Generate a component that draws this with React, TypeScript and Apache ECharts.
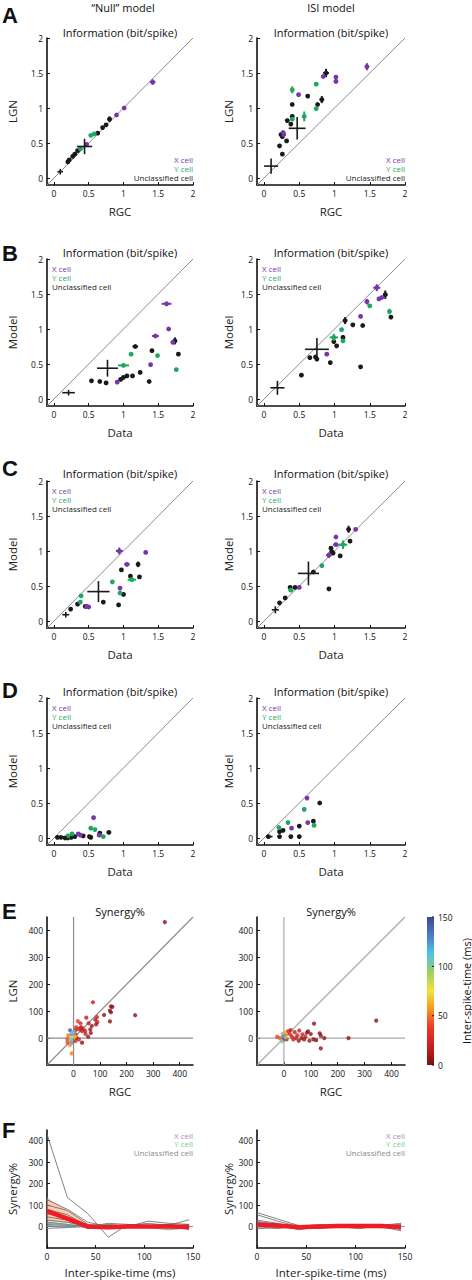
import React, { useEffect, useRef } from "react";
import * as echarts from "echarts";

const FONT = "'Open Sans', 'Noto Sans', sans-serif";
const PURPLE = "#7638a8";
const GREEN = "#1fa862";
const BLACK = "#1a1a1a";

// ---------- Information panels: [x, y, xErr, yErr] ----------
const A_NULL_X = [[1.42, 1.37, 0.04, 0.04], [1.01, 1.0, 0, 0], [0.9, 0.9, 0, 0], [0.47, 0.48, 0, 0]];
const A_NULL_Y = [[0.58, 0.63, 0, 0], [0.53, 0.61, 0, 0], [0.38, 0.42, 0, 0]];
const A_NULL_U = [[0.8, 0.84, 0.03, 0.04], [0.75, 0.76, 0.02, 0], [0.7, 0.72, 0, 0], [0.63, 0.64, 0, 0], [0.34, 0.39, 0, 0], [0.3, 0.34, 0, 0], [0.27, 0.31, 0, 0], [0.22, 0.26, 0, 0], [0.2, 0.23, 0, 0]];
const A_NULL_M = [[0.44, 0.45, 0.11, 0.11], [0.09, 0.09, 0.04, 0.04]];

const A_ISI_X = [[1.46, 1.59, 0.03, 0.05], [0.84, 1.45, 0, 0], [1.02, 1.44, 0, 0.02], [1.02, 1.38, 0, 0.03], [0.49, 1.19, 0, 0], [0.27, 0.65, 0, 0], [0.28, 0.62, 0, 0]];
const A_ISI_Y = [[0.4, 1.26, 0, 0.05], [0.74, 1.34, 0, 0], [0.74, 0.99, 0, 0], [0.57, 0.88, 0.02, 0.07], [0.4, 0.84, 0, 0]];
const A_ISI_U = [[0.88, 1.5, 0.04, 0.06], [0.62, 1.17, 0, 0], [0.82, 1.12, 0.03, 0.05], [0.76, 1.05, 0, 0], [0.4, 1.05, 0, 0], [0.4, 0.88, 0, 0], [0.33, 0.82, 0, 0], [0.38, 0.77, 0, 0], [0.24, 0.62, 0, 0], [0.26, 0.59, 0, 0], [0.32, 0.53, 0, 0], [0.22, 0.46, 0, 0], [0.26, 0.34, 0, 0]];
const A_ISI_M = [[0.47, 0.71, 0.12, 0.16], [0.1, 0.17, 0.1, 0.11]];

const B_NULL_X = [[1.62, 1.36, 0.07, 0.03], [1.65, 1.0, 0, 0], [1.46, 0.9, 0.05, 0], [1.71, 0.81, 0, 0], [1.39, 0.49, 0, 0], [0.91, 0.24, 0, 0]];
const B_NULL_Y = [[1.11, 0.64, 0, 0], [1.49, 0.62, 0, 0], [1.0, 0.48, 0.08, 0], [1.76, 0.42, 0, 0]];
const B_NULL_U = [[1.74, 0.83, 0.03, 0.05], [1.17, 0.75, 0.04, 0], [1.41, 0.69, 0, 0], [1.79, 0.64, 0, 0], [1.24, 0.38, 0, 0], [1.13, 0.33, 0.02, 0], [1.05, 0.33, 0, 0], [1.0, 0.31, 0, 0], [0.96, 0.28, 0, 0], [1.37, 0.25, 0, 0], [0.54, 0.26, 0, 0], [0.66, 0.25, 0, 0], [0.75, 0.23, 0, 0]];
const B_NULL_M = [[0.77, 0.44, 0.15, 0.12], [0.21, 0.09, 0.09, 0.04]];

const B_ISI_X = [[1.6, 1.59, 0.05, 0.05], [1.63, 1.43, 0, 0], [1.67, 1.45, 0, 0], [1.46, 1.39, 0.03, 0.04], [1.37, 1.18, 0, 0], [0.89, 0.64, 0, 0]];
const B_ISI_Y = [[1.5, 1.33, 0.02, 0.02], [1.78, 1.25, 0, 0.04], [1.1, 0.99, 0, 0], [0.99, 0.88, 0.06, 0.05], [1.12, 0.83, 0, 0]];
const B_ISI_U = [[1.72, 1.49, 0.03, 0.06], [1.8, 1.17, 0.02, 0], [1.15, 1.12, 0.03, 0.05], [1.26, 1.06, 0.02, 0], [1.4, 1.05, 0, 0], [1.12, 0.88, 0.02, 0.03], [0.99, 0.82, 0, 0], [1.03, 0.76, 0, 0], [0.73, 0.6, 0, 0], [0.65, 0.59, 0, 0], [0.75, 0.57, 0, 0], [0.94, 0.52, 0, 0], [1.37, 0.46, 0.02, 0], [0.53, 0.34, 0, 0]];
const B_ISI_M = [[0.75, 0.71, 0.17, 0.16], [0.19, 0.16, 0.1, 0.1]];

const C_NULL_X = [[0.94, 1.0, 0.05, 0.05], [1.32, 0.98, 0, 0], [1.05, 0.81, 0.04, 0.03], [0.95, 0.47, 0, 0], [0.5, 0.2, 0, 0], [0.47, 0.21, 0, 0]];
const C_NULL_Y = [[1.12, 0.59, 0.06, 0.02], [0.84, 0.56, 0, 0], [0.95, 0.4, 0, 0], [0.39, 0.36, 0.03, 0], [0.38, 0.27, 0, 0]];
const C_NULL_U = [[1.21, 0.81, 0, 0.04], [0.97, 0.73, 0, 0], [1.1, 0.64, 0, 0], [1.23, 0.63, 0, 0], [1.0, 0.38, 0.02, 0], [0.34, 0.24, 0, 0], [0.45, 0.21, 0, 0], [0.71, 0.27, 0, 0], [0.93, 0.23, 0, 0], [0.24, 0.17, 0, 0]];
const C_NULL_M = [[0.64, 0.42, 0.16, 0.15], [0.17, 0.09, 0.05, 0.04]];

const C_ISI_X = [[1.3, 1.31, 0, 0], [1.02, 1.2, 0, 0], [1.02, 1.09, 0.04, 0.03], [0.92, 0.94, 0.04, 0.04], [0.5, 0.48, 0.02, 0]];
const C_ISI_Y = [[1.12, 1.09, 0.06, 0.06], [0.82, 0.79, 0, 0], [0.38, 0.44, 0.03, 0.02]];
const C_ISI_U = [[1.2, 1.31, 0.02, 0.05], [1.22, 1.14, 0, 0], [0.95, 1.04, 0, 0], [0.96, 0.99, 0.02, 0], [0.98, 0.97, 0, 0], [1.08, 0.93, 0, 0], [0.7, 0.7, 0, 0], [0.44, 0.48, 0.03, 0], [0.37, 0.48, 0, 0], [0.92, 0.46, 0, 0], [0.3, 0.33, 0, 0], [0.22, 0.26, 0, 0]];
const C_ISI_M = [[0.63, 0.68, 0.15, 0.17], [0.16, 0.16, 0.05, 0.05]];

const D_NULL_X = [[0.57, 0.29, 0, 0], [0.35, 0.06, 0, 0], [0.65, 0.04, 0, 0], [0.38, 0.04, 0, 0]];
const D_NULL_Y = [[0.26, 0.06, 0, 0], [0.59, 0.12, 0, 0], [0.53, 0.14, 0, 0], [0.71, 0.02, 0, 0], [0.2, 0.03, 0, 0]];
const D_NULL_U = [[0.05, 0.01, 0.02, 0], [0.1, 0.01, 0, 0], [0.2, 0.0, 0, 0], [0.25, 0.01, 0, 0], [0.3, 0.02, 0, 0], [0.51, 0.02, 0, 0], [0.53, 0.01, 0, 0], [0.66, 0.07, 0, 0], [0.79, 0.08, 0.03, 0.01], [0.42, 0.03, 0, 0], [0.16, 0.0, 0, 0]];
const D_NULL_M = [[0.14, 0.01, 0.05, 0.01]];

const D_ISI_X = [[0.61, 0.57, 0, 0], [0.62, 0.22, 0, 0], [0.39, 0.14, 0, 0]];
const D_ISI_Y = [[0.57, 0.41, 0.02, 0.03], [0.34, 0.22, 0.02, 0.03], [0.71, 0.18, 0, 0], [0.21, 0.15, 0, 0]];
const D_ISI_U = [[0.79, 0.5, 0, 0], [0.5, 0.17, 0, 0], [0.7, 0.24, 0, 0], [0.22, 0.09, 0, 0], [0.27, 0.11, 0, 0], [0.38, 0.02, 0, 0], [0.5, 0.02, 0, 0], [0.22, 0.02, 0, 0], [0.06, 0.02, 0, 0]];
const D_ISI_M = [[0.08, 0.02, 0.04, 0.01]];

// ---------- Synergy panels: [RGC, LGN, inter-spike-time] ----------
const E_NULL = [
  [344, 431, 2], [232, 85, 3], [141, 118, 4], [146, 116, 3], [137, 102, 5], [141, 96, 4], [115, 86, 3], [137, 62, 4],
  [73, 133, 18], [88, 78, 16], [82, 68, 14], [90, 60, 20], [85, 51, 6], [48, 76, 18], [69, 45, 6], [57, 55, 15],
  [26, 55, 20], [16, 63, 38], [26, 38, 22], [38, 32, 20], [20, 32, 22], [7, 29, 24], [32, 26, 18], [44, 26, 20],
  [63, 32, 5], [65, 19, 4], [7, 14, 22], [-8, 14, 130], [-13, 29, 145], [-5, 19, 105], [11, 1, 5], [-23, -5, 40],
  [-14, -26, 55], [-7, -57, 52], [32, -17, 4], [-23, -17, 42], [-5, -17, 125], [7, -11, 20], [-20, 10, 50],
  [0, 22, 110], [10, 40, 22], [30, 40, 18], [45, 15, 20], [55, 5, 6], [20, -5, 22], [-10, -5, 100], [5, 5, 70]
];
const E_ISI = [
  [343, 65, 3], [240, 0, 4], [112, 54, 3], [133, 18, 4], [137, 9, 3], [137, -38, 5], [85, 20, 4], [90, 25, 3],
  [57, 28, 18], [69, 14, 20], [80, 5, 16], [50, 10, 20], [40, 22, 18], [30, 5, 22], [23, 14, 22], [15, 25, 20],
  [10, -5, 20], [55, -10, 5], [75, -5, 4], [95, -10, 5], [110, -5, 4], [65, 0, 6], [45, 0, 18], [35, -5, 20],
  [5, 10, 40], [-5, 15, 110], [-3, 5, 130], [0, -5, 145], [-15, 0, 45], [-25, 5, 38], [-8, -12, 100], [2, 20, 60],
  [25, 30, 15], [100, 15, 5], [150, 0, 4], [120, -8, 3], [7, 3, 90]
];

// ---------- Synergy vs inter-spike-time ----------
const F_T = [0, 21, 42, 63, 83, 104, 125, 146];
const F_NULL_GRAY = [
  [430, 135, 60, -50, 10, 5, 0, 0],
  [125, 80, 20, 0, 5, 15, 5, 32],
  [100, 75, 10, -5, 0, 25, 15, 10],
  [80, 55, 0, 15, 10, 0, 5, -15],
  [60, 40, -10, 10, 0, 5, 10, -10],
  [45, 30, -5, 5, 5, 0, 0, 10],
  [30, 20, 0, -10, 0, -5, 5, 0],
  [20, 10, -5, 0, 5, 0, -5, 5],
  [10, 5, 0, 5, 0, 5, 0, -5],
  [0, -5, 5, 0, -5, 0, 10, 0]
];
const F_NULL_PURPLE = [[-10, -5, 0, 5, 0, 5, 0, 0], [15, 5, -5, 0, 5, 0, -5, 0]];
const F_NULL_GREEN = [[5, 0, 5, 10, 0, -5, -15, -5], [20, 10, 0, 0, 5, 0, 0, 5]];
const F_NULL_LO = [25, 15, -8, -8, -5, -5, -5, -8];
const F_NULL_HI = [135, 75, 12, 8, 8, 10, 8, 8];
const F_NULL_MEAN = [72, 37, 0, -3, 0, 0, 0, -2];

const F_ISI_GRAY = [
  [65, 35, 5, 0, 0, 5, 0, -5],
  [55, 25, 0, -5, 5, 0, 5, 0],
  [30, 15, -10, -5, 0, 0, 10, -15],
  [20, 10, -15, 0, 5, 10, 5, 15],
  [10, 0, 5, -10, 0, 5, -5, 10],
  [-10, -5, 0, 10, -5, 0, 0, -20],
  [5, 10, -5, 5, 0, -10, 5, 5],
  [0, -10, 5, 0, 10, 5, -5, 0]
];
const F_ISI_PURPLE = [[25, 10, 0, 5, 0, 5, 5, 0], [-5, 5, -5, 0, 5, 0, 0, 15]];
const F_ISI_GREEN = [[15, 5, 5, -5, 0, 5, 0, 10]];
const F_ISI_LO = [0, -5, -8, -5, -3, -3, -3, -8];
const F_ISI_HI = [22, 12, 5, 5, 8, 8, 8, 8];
const F_ISI_MEAN = [10, 5, -3, 0, 3, 2, 3, -2];

const INFO_TICKS = [0, 0.5, 1, 1.5, 2];
const SYN_TICKS = [0, 100, 200, 300, 400];
const ISI_TICKS = [0, 50, 100, 150];
const ISI_COLORS = ["#7d1010", "#c81e1e", "#ee3524", "#f7931e", "#f3e33c", "#9fcf5c", "#4ec3ea", "#4a7ec2", "#3c4796"];
const CBAR_LABELS = [0, 50, 100, 150];

const ROW_TOPS = [38, 259, 481, 698, 917, 1130];
const ROW_H = [147, 147, 147, 147, 148, 118];
const COL_LEFT = [47, 257];
const COL_W = [146, 148];

function pointSeries(data: number[][], color: string, gi: number, dotR: number, lw: number) {
  return {
    type: "custom",
    coordinateSystem: "cartesian2d",
    xAxisIndex: gi,
    yAxisIndex: gi,
    data,
    encode: { x: 0, y: 1 },
    silent: true,
    clip: false,
    renderItem: (params: any, api: any) => {
      const x = api.value(0), y = api.value(1), ex = api.value(2), ey = api.value(3);
      const c = api.coord([x, y]);
      const ch: any[] = [];
      if (ex > 0) {
        const a = api.coord([x - ex, y]), b = api.coord([x + ex, y]);
        ch.push({ type: "line", shape: { x1: a[0], y1: a[1], x2: b[0], y2: b[1] }, style: { stroke: color, lineWidth: lw } });
      }
      if (ey > 0) {
        const a = api.coord([x, y - ey]), b = api.coord([x, y + ey]);
        ch.push({ type: "line", shape: { x1: a[0], y1: a[1], x2: b[0], y2: b[1] }, style: { stroke: color, lineWidth: lw } });
      }
      if (dotR > 0) ch.push({ type: "circle", shape: { cx: c[0], cy: c[1], r: dotR }, style: { fill: color } });
      return { type: "group", children: ch };
    },
  };
}

function refLine(gi: number, pts: number[][], color: string, w: number) {
  return {
    type: "line", xAxisIndex: gi, yAxisIndex: gi, data: pts, symbol: "none", silent: true,
    lineStyle: { color, width: w }, z: 1,
  };
}

function bandSeries(gi: number, lo: number[], hi: number[]) {
  return {
    type: "custom", coordinateSystem: "cartesian2d", xAxisIndex: gi, yAxisIndex: gi, silent: true,
    data: F_T.map((t, i) => [t, lo[i], hi[i]]),
    encode: { x: 0, y: [1, 2] },
    renderItem: (params: any, api: any) => {
      if (params.dataIndex !== 0) return { type: "group", children: [] };
      const top = F_T.map((t, i) => api.coord([t, hi[i]]));
      const bot = F_T.map((t, i) => api.coord([t, lo[i]])).reverse();
      return { type: "polygon", shape: { points: top.concat(bot) }, style: { fill: "rgba(245,160,120,0.55)" } };
    },
  };
}

function lineSeries(gi: number, vals: number[], color: string, w: number, z = 2) {
  return {
    type: "line", xAxisIndex: gi, yAxisIndex: gi, data: F_T.map((t, i) => [t, vals[i]]),
    symbol: "none", silent: true, lineStyle: { color, width: w }, z,
  };
}

function axisCommon(min: number, max: number, ticks: number[], name: string, nameGap: number) {
  return {
    type: "value", min, max, name, nameLocation: "middle", nameGap,
    nameTextStyle: { fontFamily: FONT, fontSize: 11.5, color: "#222" },
    axisLine: { show: true, onZero: false, lineStyle: { color: "#111", width: 1.6 } },
    axisTick: { show: true, inside: true, length: 3, customValues: ticks, lineStyle: { color: "#111", width: 1 } },
    axisLabel: { customValues: ticks, fontFamily: FONT, fontSize: 8.5, color: "#111", margin: 4 },
    splitLine: { show: false },
  };
}

export default function App() {
  const ref = useRef<HTMLDivElement>(null);
  useEffect(() => {
    if (!ref.current) return;
    const chart = echarts.init(ref.current, null, { renderer: "svg" });

    const grids: any[] = [];
    const xAxes: any[] = [];
    const yAxes: any[] = [];
    const series: any[] = [];
    const rowNamesY = ["LGN", "Model", "Model", "Model", "LGN", "Synergy%"];
    const rowNamesX = ["RGC", "Data", "Data", "Data", "RGC", "Inter-spike-time (ms)"];

    for (let r = 0; r < 6; r++) {
      for (let c = 0; c < 2; c++) {
        grids.push({ left: COL_LEFT[c], top: ROW_TOPS[r], width: COL_W[c], height: ROW_H[r] });
        const gi = r * 2 + c;
        const yGap = c === 0 ? 29 : 23;
        if (r < 4) {
          xAxes.push({ gridIndex: gi, ...axisCommon(-0.1, 2, INFO_TICKS, rowNamesX[r], 20) });
          yAxes.push({ gridIndex: gi, ...axisCommon(-0.1, 2, INFO_TICKS, rowNamesY[r], yGap) });
        } else if (r === 4) {
          xAxes.push({ gridIndex: gi, ...axisCommon(-100, 450, SYN_TICKS, rowNamesX[r], 20) });
          yAxes.push({ gridIndex: gi, ...axisCommon(-100, 450, SYN_TICKS, rowNamesY[r], yGap) });
        } else {
          xAxes.push({ gridIndex: gi, ...axisCommon(0, 150, ISI_TICKS, rowNamesX[r], 18) });
          yAxes.push({ gridIndex: gi, ...axisCommon(-100, 450, SYN_TICKS, rowNamesY[r], yGap) });
        }
      }
    }

    const infoPanels = [
      [A_NULL_X, A_NULL_Y, A_NULL_U, A_NULL_M], [A_ISI_X, A_ISI_Y, A_ISI_U, A_ISI_M],
      [B_NULL_X, B_NULL_Y, B_NULL_U, B_NULL_M], [B_ISI_X, B_ISI_Y, B_ISI_U, B_ISI_M],
      [C_NULL_X, C_NULL_Y, C_NULL_U, C_NULL_M], [C_ISI_X, C_ISI_Y, C_ISI_U, C_ISI_M],
      [D_NULL_X, D_NULL_Y, D_NULL_U, D_NULL_M], [D_ISI_X, D_ISI_Y, D_ISI_U, D_ISI_M],
    ];
    infoPanels.forEach((p, gi) => {
      series.push(refLine(gi, [[-0.1, -0.1], [2, 2]], "#8c8c8c", 1));
      series.push(pointSeries(p[2], BLACK, gi, 2.4, 2));
      series.push(pointSeries(p[1], GREEN, gi, 2.4, 2));
      series.push(pointSeries(p[0], PURPLE, gi, 2.4, 2));
      series.push(pointSeries(p[3], BLACK, gi, 0, 1.6));
    });

    const eIdx: number[] = [];
    [E_NULL, E_ISI].forEach((d, k) => {
      const gi = 8 + k;
      const col = k === 0 ? "#8c8c8c" : "#a8a8a8";
      series.push(refLine(gi, [[-100, -100], [450, 450]], col, 1.2));
      series.push(refLine(gi, [[0, -100], [0, 450]], col, 1.2));
      series.push(refLine(gi, [[-100, 0], [450, 0]], col, 1.2));
      eIdx.push(series.length);
      series.push({ type: "scatter", xAxisIndex: gi, yAxisIndex: gi, data: d, symbolSize: 4.2, silent: true, z: 3 });
    });

    const fSets = [
      [F_NULL_GRAY, F_NULL_PURPLE, F_NULL_GREEN, F_NULL_LO, F_NULL_HI, F_NULL_MEAN],
      [F_ISI_GRAY, F_ISI_PURPLE, F_ISI_GREEN, F_ISI_LO, F_ISI_HI, F_ISI_MEAN],
    ];
    fSets.forEach((s: any, k) => {
      const gi = 10 + k;
      series.push(refLine(gi, [[0, 0], [150, 0]], "#9a9a9a", 1));
      series.push(bandSeries(gi, s[3], s[4]));
      s[0].forEach((v: number[]) => series.push(lineSeries(gi, v, "rgba(100,100,100,0.8)", 1)));
      s[1].forEach((v: number[]) => series.push(lineSeries(gi, v, "rgba(160,120,200,0.8)", 1)));
      s[2].forEach((v: number[]) => series.push(lineSeries(gi, v, "rgba(70,175,115,0.8)", 1)));
      series.push(lineSeries(gi, s[5], "#ee1c24", 4.5, 5));
    });

    const txt = (x: number, y: number, text: string, opts: any = {}) => ({
      type: "text", x, y, silent: true,
      style: {
        text, fill: opts.fill || "#111", fontFamily: opts.fontFamily || FONT, fontSize: opts.fontSize || 10.5,
        fontWeight: opts.fontWeight || "normal", textAlign: opts.align || "center", textVerticalAlign: "middle",
      },
      rotation: opts.rotation || 0,
    });

    const graphics: any[] = [];
    graphics.push(txt(123, 7, "\u201CNull\u201D model", { fontSize: 11 }));
    graphics.push(txt(331, 7, "ISI model", { fontSize: 11 }));
    const letters = ["A", "B", "C", "D", "E", "F"];
    const letterY = [15, 253, 468, 690, 911, 1130];
    letters.forEach((l, i) => graphics.push(txt(2, letterY[i], l, { fontSize: 22, fontWeight: "bold", align: "left", fontFamily: "'Liberation Sans', Arial, sans-serif" })));

    const titleY = [32, 252, 473, 691, 911];
    for (let r = 0; r < 5; r++) {
      for (let c = 0; c < 2; c++) {
        graphics.push(txt(COL_LEFT[c] + COL_W[c] / 2, titleY[r], r < 4 ? "Information (bit/spike)" : "Synergy%", { fontSize: 11 }));
      }
    }
    // legends
    const legendItems = [["X cell", PURPLE], ["Y cell", GREEN], ["Unclassified cell", BLACK]];
    for (let c = 0; c < 2; c++) {
      legendItems.forEach((it, k) => {
        graphics.push(txt(COL_LEFT[c] + COL_W[c], 159 + k * 9, it[0], { fill: it[1], fontSize: 8, align: "right" }));
      });
      [268, 490, 707].forEach((y0) => {
        legendItems.forEach((it, k) => {
          graphics.push(txt(COL_LEFT[c] + 5, y0 + k * 9, it[0], { fill: it[1], fontSize: 8, align: "left" }));
        });
      });
      const fLeg = [["X cell", "#a98bc6"], ["Y cell", "#7ccc9c"], ["Unclassified cell", "#8a8a8a"]];
      fLeg.forEach((it, k) => {
        graphics.push(txt(COL_LEFT[c] + COL_W[c], 1135 + k * 8.5, it[0], { fill: it[1], fontSize: 8, align: "right" }));
      });
    }
    // colour bar
    const cbX = 427, cbY = 917, cbW = 7, cbH = 148;
    graphics.push({
      type: "rect", shape: { x: cbX, y: cbY, width: cbW, height: cbH }, silent: true,
      style: {
        fill: new echarts.graphic.LinearGradient(0, 1, 0, 0, ISI_COLORS.map((col, i) => ({ offset: i / (ISI_COLORS.length - 1), color: col }))),
      },
    });
    CBAR_LABELS.forEach((v) => {
      const y = cbY + cbH - (v / 150) * cbH;
      graphics.push({ type: "line", shape: { x1: cbX + cbW - 2, y1: y, x2: cbX + cbW, y2: y }, style: { stroke: "#111", lineWidth: 1 }, silent: true });
      graphics.push(txt(cbX + cbW + 4, y, String(v), { fontSize: 8.5, align: "left" }));
    });
    graphics.push(txt(466, 991, "Inter-spike-time (ms)", { fontSize: 11, rotation: Math.PI / 2 }));

    chart.setOption({
      animation: false,
      backgroundColor: "#ffffff",
      grid: grids,
      xAxis: xAxes,
      yAxis: yAxes,
      visualMap: [{
        type: "continuous", show: false, min: 0, max: 150, dimension: 2, seriesIndex: eIdx,
        inRange: { color: ISI_COLORS },
      }],
      series,
      graphic: graphics,
    });
    return () => chart.dispose();
  }, []);
  return <div ref={ref} style={{ position: "absolute", left: 0, top: 0, width: 472, height: 1280, background: "#fff" }} />;
}
